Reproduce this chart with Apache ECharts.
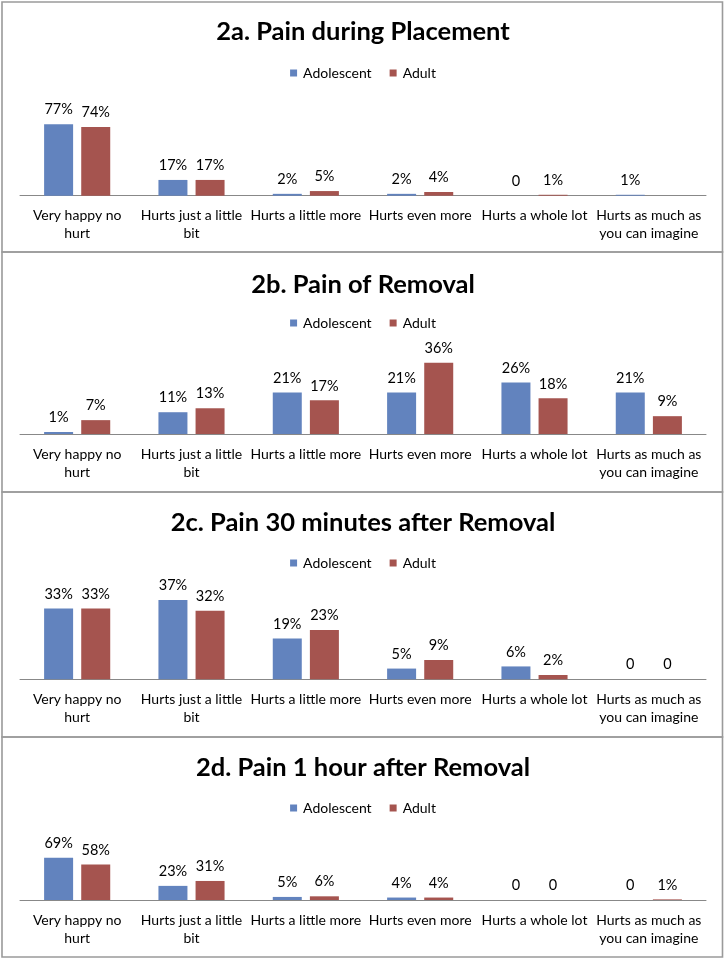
<!DOCTYPE html>
<html>
<head>
<meta charset="utf-8">
<script src="https://cdn.jsdelivr.net/npm/echarts@6/dist/echarts.min.js"></script>
<style>
  html, body { margin: 0; padding: 0; background: #fff; }
  #chart { width: 726px; height: 960px; }
</style>
</head>
<body>
<div id="chart"></div>
<script>
// ---- data ----
var categories = [
  "Very happy no\nhurt",
  "Hurts just a little\nbit",
  "Hurts a little more",
  "Hurts even more",
  "Hurts a whole lot",
  "Hurts as much as\nyou can imagine"
];
var seriesNames = ["Adolescent", "Adult"];

var titles = [
  "2a. Pain during Placement",
  "2b. Pain of Removal",
  "2c. Pain 30 minutes after Removal",
  "2d. Pain 1 hour after Removal"
];

var placementAdolescent = [77, 17, 2, 2, 0, 1];
var placementAdult      = [74, 17, 5, 4, 1, null];

var removalAdolescent   = [1, 11, 21, 21, 26, 21];
var removalAdult        = [7, 13, 17, 36, 18, 9];

var after30Adolescent   = [33, 37, 19, 5, 6, 0];
var after30Adult        = [33, 32, 23, 9, 2, 0];

var after60Adolescent   = [69, 23, 5, 4, 0, 0];
var after60Adult        = [58, 31, 6, 4, 0, 1];

var panelData = [
  [placementAdolescent, placementAdult],
  [removalAdolescent, removalAdult],
  [after30Adolescent, after30Adult],
  [after60Adolescent, after60Adult]
];
var axisMax = [100, 40, 40, 100];

// ---- layout (positions only) ----
var panels = [
  { y0: 2,   y1: 252, titleTop: 17,  legendTop: 65,  gridTop: 103,   gridBottom: 764.3 },
  { y0: 252, y1: 492, titleTop: 270, legendTop: 315, gridTop: 354.8, gridBottom: 526 },
  { y0: 492, y1: 737, titleTop: 508, legendTop: 555, gridTop: 593.5, gridBottom: 280.7 },
  { y0: 737, y1: 957, titleTop: 753, legendTop: 800, gridTop: 838.6, gridBottom: 60 }
];

var FONT = "Lato, 'Open Sans', sans-serif";
var BLUE = "#6283BE";
var RED = "#A5544F";

var title = [], legend = [], grid = [], xAxis = [], yAxis = [], series = [], graphic = [];

function fmt(p) {
  if (p.value === null || p.value === undefined) return "";
  return p.value === 0 ? "0" : p.value + "%";
}

panels.forEach(function (p, i) {
  graphic.push({
    type: "rect",
    shape: { x: 2, y: p.y0, width: 720.5, height: p.y1 - p.y0 },
    style: { fill: "none", stroke: "#9a9a9a", lineWidth: 1.6 },
    z: 10
  });
  title.push({
    text: titles[i],
    left: "center",
    top: p.titleTop,
    padding: 0,
    textStyle: { fontFamily: FONT, fontWeight: "bold", fontSize: 25.5, lineHeight: 30, color: "#000" }
  });
  legend.push({
    data: seriesNames,
    left: "center",
    top: p.legendTop,
    padding: 0,
    itemWidth: 7,
    itemHeight: 7,
    itemGap: 18,
    icon: "rect",
    textStyle: { fontFamily: FONT, fontSize: 14, lineHeight: 16, color: "#000", padding: [0, 0, 0, 1] }
  });
  grid.push({ left: 20, right: 20, top: p.gridTop, bottom: p.gridBottom, containLabel: false });
  xAxis.push({
    type: "category",
    gridIndex: i,
    data: categories,
    axisTick: { show: false },
    axisLine: { lineStyle: { color: "#888", width: 1 } },
    axisLabel: {
      interval: 0, margin: 11,
      fontFamily: FONT, fontSize: 14, lineHeight: 18, color: "#000"
    }
  });
  yAxis.push({
    type: "value",
    gridIndex: i,
    min: 0,
    max: axisMax[i],
    show: false,
    splitLine: { show: false }
  });
  seriesNames.forEach(function (name, s) {
    series.push({
      type: "bar",
      name: name,
      xAxisIndex: i,
      yAxisIndex: i,
      data: panelData[i][s],
      barWidth: 29,
      barGap: "28%",
      itemStyle: { color: s === 0 ? BLUE : RED },
      label: {
        show: true, position: "top", distance: 6,
        fontFamily: FONT, fontSize: 14.5, lineHeight: 17, color: "#000",
        formatter: fmt
      },
      animation: false
    });
  });
});

var chart = echarts.init(document.getElementById("chart"), null, { renderer: "canvas" });
chart.setOption({
  animation: false,
  backgroundColor: "#fff",
  title: title,
  legend: legend,
  grid: grid,
  xAxis: xAxis,
  yAxis: yAxis,
  series: series,
  graphic: graphic
});
</script>
</body>
</html>
